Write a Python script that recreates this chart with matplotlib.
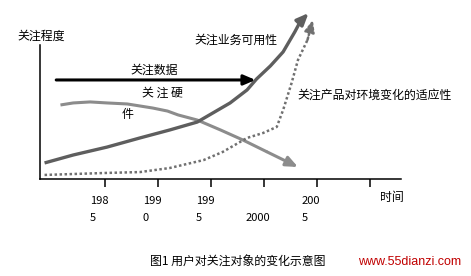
import matplotlib
matplotlib.use("Agg")
import matplotlib.pyplot as plt
import matplotlib.transforms as mtransforms

plt.rcParams['font.family'] = ['Noto Sans CJK SC', 'DejaVu Sans']

# ---- data (year, attention level 0-100) ----
biz_x = [1979.3, 1982.0, 1985.2, 1988.3, 1991.1, 1993.7, 1996.8, 1998.4, 1999.3,
         2000.6, 2001.8, 2002.9, 2003.4, 2004.2]
biz_y = [9.5, 14.2, 18.9, 24.3, 29.0, 33.7, 45.0, 52.7, 59.2,
         66.9, 75.2, 87.0, 92.9, 98.2]

hw_x = [1980.8, 1982.0, 1983.6, 1985.2, 1987.1, 1988.3, 1989.5, 1990.9, 1991.9,
        1993.7, 1995.9, 1998.0, 2000.3, 2003.2]
hw_y = [43.8, 45.0, 45.6, 45.0, 44.4, 43.2, 42.0, 40.2, 37.9,
        34.9, 29.0, 23.1, 16.0, 7.1]

data_x = [1980.4, 1999.2]
data_y = [58.6, 58.6]

env_x = [1979.3, 1985.2, 1988.3, 1991.1, 1994.3, 1996.1, 1998.4, 1999.9, 2001.2,
         2001.8, 2002.6, 2003.2, 2004.1, 2004.6]
env_y = [2.4, 3.6, 4.1, 6.5, 11.2, 16.0, 24.3, 27.2, 30.8,
         40.8, 56.8, 70.4, 82.3, 94.1]

tick_years = [1985, 1990, 1995, 2000, 2005, 2010]
tick_labels = ["198\n5", "199\n0", "199\n5", "\n2000", "200\n5", ""]

fig = plt.figure(figsize=(4.71, 2.76), dpi=100)
ax = fig.add_axes([40/471, 1-179/276, 361/471, 169/276])
ax.set_xlim(1978.87, 2012.92)
ax.set_ylim(0, 100)
ax.patch.set_alpha(0)

for s in ['top', 'right']:
    ax.spines[s].set_visible(False)
ax.spines['left'].set_bounds(0, 79.3)
ax.spines['left'].set_linewidth(1.1)
ax.spines['bottom'].set_linewidth(1.1)
ax.set_yticks([])
ax.set_xticks(tick_years)
ax.set_xticklabels(tick_labels, fontsize=8, linespacing=1.9, multialignment='left')
ax.tick_params(axis='x', length=6, width=1.1, pad=6, direction='out')
off = mtransforms.ScaledTranslation(-6/100, 0, fig.dpi_scale_trans)
for lab in ax.get_xticklabels():
    lab.set_transform(lab.get_transform() + off)

def arrow_line(xs, ys, color, lw, ls='-'):
    ax.plot(xs[:-1], ys[:-1], color=color, lw=lw, ls=ls, solid_capstyle='butt',
            dash_capstyle='butt', solid_joinstyle='round')
    ax.annotate('', xy=(xs[-1], ys[-1]), xytext=(xs[-2], ys[-2]),
                arrowprops=dict(arrowstyle='-|>,head_length=0.7,head_width=0.3',
                                color=color, lw=lw, linestyle=ls,
                                shrinkA=0, shrinkB=0))

arrow_line(hw_x, hw_y, '#8c8c8c', 2.2)
arrow_line(env_x, env_y, '#707070', 1.8, ls=(0, (1, 1)))
arrow_line(data_x, data_y, '#000000', 2.2)
arrow_line(biz_x, biz_y, '#5e5e5e', 2.4)

fs = 8.6
fig.text(41/471, 1-36/276, "关注程度", fontsize=fs, ha='center', va='center')
fig.text(236/471, 1-40/276, "关注业务可用性", fontsize=fs, ha='center', va='center')
fig.text(154/471, 1-70/276, "关注数据", fontsize=fs, ha='center', va='center')
fig.text(162/471, 1-93/276, "关 注 硬", fontsize=fs, ha='center', va='center')
fig.text(128/471, 1-114/276, "件", fontsize=fs, ha='center', va='center')
fig.text(375/471, 1-95/276, "关注产品对环境变化的适应性", fontsize=fs, ha='center', va='center')
fig.text(392/471, 1-198/276, "时间", fontsize=fs, ha='center', va='center')
fig.text(238/471, 1-262/276, "图1 用户对关注对象的变化示意图", fontsize=fs, ha='center', va='center')
fig.text(410/471, 1-262/276, "www.55dianzi.com", fontsize=9, ha='center', va='center',
         color='#c00000', family=['Liberation Sans', 'DejaVu Sans'])

fig.savefig("out.png", dpi=100)
